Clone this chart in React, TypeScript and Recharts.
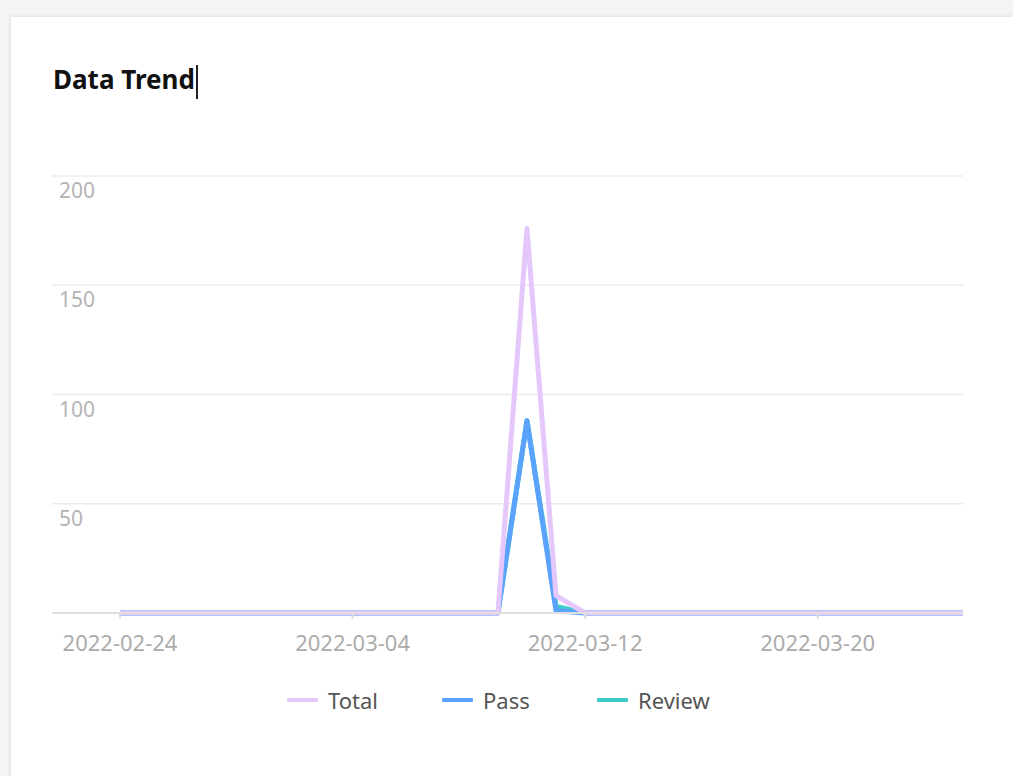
import React from 'react';
import { LineChart, Line, XAxis, YAxis, CartesianGrid } from 'recharts';

const dates = [
  '2022-02-24', '2022-02-25', '2022-02-26', '2022-02-27', '2022-02-28',
  '2022-03-01', '2022-03-02', '2022-03-03', '2022-03-04', '2022-03-05',
  '2022-03-06', '2022-03-07', '2022-03-08', '2022-03-09', '2022-03-10',
  '2022-03-11', '2022-03-12', '2022-03-13', '2022-03-14', '2022-03-15',
  '2022-03-16', '2022-03-17', '2022-03-18', '2022-03-19', '2022-03-20',
  '2022-03-21', '2022-03-22', '2022-03-23', '2022-03-24', '2022-03-25',
];
const totalValues = [0, 0, 0, 0, 0, 0, 0, 0, 0, 0, 0, 0, 0, 0, 176, 8, 0, 0, 0, 0, 0, 0, 0, 0, 0, 0, 0, 0, 0, 0];
const passValues = [0, 0, 0, 0, 0, 0, 0, 0, 0, 0, 0, 0, 0, 0, 88, 1, 0, 0, 0, 0, 0, 0, 0, 0, 0, 0, 0, 0, 0, 0];
const reviewValues = [0, 0, 0, 0, 0, 0, 0, 0, 0, 0, 0, 0, 0, 0, 88, 3, 0, 0, 0, 0, 0, 0, 0, 0, 0, 0, 0, 0, 0, 0];
const yTicks = [0, 50, 100, 150, 200];

const series = [
  { key: 'total', name: 'Total', color: '#e5c8fb' },
  { key: 'pass', name: 'Pass', color: '#5aa2fb' },
  { key: 'review', name: 'Review', color: '#3ccbcb' },
];

const data = dates.map((d, i) => ({
  date: d,
  total: totalValues[i],
  pass: passValues[i],
  review: reviewValues[i],
}));

const FONT = '"Segoe UI", "Noto Sans", "Open Sans", sans-serif';

const YTick = (props: any) => {
  const { x, y, payload } = props;
  if (payload.value === 0) return null;
  return (
    <text x={x} y={y + 22} textAnchor="start" fill="#b4b4b4" fontSize={21} fontFamily={FONT}>
      {payload.value}
    </text>
  );
};

const XTick = (props: any) => {
  const { x, y, payload } = props;
  return (
    <text x={x} y={y + 32} textAnchor="middle" fill="#ababab" fontSize={22} fontFamily={FONT}>
      {payload.value}
    </text>
  );
};

export default function App() {
  const drawOrder = [series[2], series[1], series[0]];
  return (
    <div style={{ position: 'fixed', left: 0, top: 0, width: 1013, height: 776, background: '#f4f4f6', overflow: 'hidden' }}>
      <div
        style={{
          position: 'absolute', left: 11, top: 17, width: 1013, height: 780, background: '#ffffff',
          boxShadow: '0 0 4px 1px rgba(0,0,0,0.08)',
        }}
      />
      <div
        style={{
          position: 'absolute', left: 53, top: 59, fontFamily: FONT, fontWeight: 700, fontSize: 26,
          color: '#111', lineHeight: '40px', whiteSpace: 'nowrap',
        }}
      >
        Data Trend
        <span style={{ display: 'inline-block', width: 2, height: 34, background: '#222', verticalAlign: 'middle', marginLeft: 1 }} />
      </div>
      <div style={{ position: 'absolute', left: 0, top: 0 }}>
        <LineChart width={1013} height={776} data={data} margin={{ top: 176, right: 50, bottom: 113, left: 52 }}>
          <CartesianGrid vertical={false} stroke="#ececec" strokeWidth={1.5} />
          <XAxis
            dataKey="date"
            interval={7}
            padding={{ left: 68, right: 0 }}
            height={50}
            axisLine={{ stroke: '#dedede', strokeWidth: 2 }}
            tickLine={{ stroke: '#dedede', strokeWidth: 2 }}
            tickSize={6}
            tickMargin={0}
            tick={<XTick />}
          />
          <YAxis
            mirror
            width={60}
            domain={[0, 200]}
            ticks={yTicks}
            axisLine={false}
            tickLine={false}
            tickSize={0}
            tickMargin={7}
            tick={<YTick />}
          />
          {drawOrder.map((s) => (
            <Line
              key={s.key}
              type="linear"
              dataKey={s.key}
              name={s.name}
              stroke={s.color}
              strokeWidth={5}
              dot={false}
              activeDot={false}
              strokeLinejoin="round"
              isAnimationActive={false}
            />
          ))}
        </LineChart>
      </div>
      <div style={{ position: 'absolute', left: 287, top: 686, display: 'flex', alignItems: 'center', fontFamily: FONT, fontSize: 22, color: '#555' }}>
        {series.map((s) => (
          <div key={s.key} style={{ display: 'flex', alignItems: 'center', width: 155, height: 28 }}>
            <span style={{ display: 'inline-block', width: 31, height: 4, background: s.color, borderRadius: 1, marginRight: 10 }} />
            <span>{s.name}</span>
          </div>
        ))}
      </div>
    </div>
  );
}
